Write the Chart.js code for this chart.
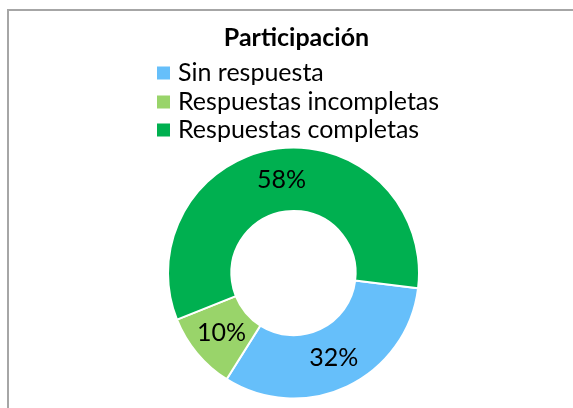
<!DOCTYPE html>
<html>
<head>
<meta charset="utf-8">
<script src="https://cdn.jsdelivr.net/npm/chart.js@4.4.1/dist/chart.umd.min.js"></script>
<style>
  html, body { margin: 0; padding: 0; background: #fff; }
  #wrap { width: 573px; height: 408px; position: relative; }
</style>
</head>
<body>
<div id="wrap"><canvas id="c" width="573" height="408"></canvas></div>
<script>
const chartTitle = "Participación";
const categories = ["Sin respuesta", "Respuestas incompletas", "Respuestas completas"];
const values = [32, 10, 58];
const valueLabels = ["32%", "10%", "58%"];
const colors = ["#66BFFA", "#99D46A", "#00B050"];

const FONT = "Lato, 'Liberation Sans', Arial, sans-serif";

const excelDecor = {
  id: 'excelDecor',
  afterDatasetsDraw(chart) {
    const ctx = chart.ctx;
    ctx.save();
    const meta = chart.getDatasetMeta(0);
    ctx.fillStyle = '#000';
    ctx.font = '25px ' + FONT;
    ctx.textAlign = 'center';
    ctx.textBaseline = 'middle';
    meta.data.forEach((arc, i) => {
      const p = arc.tooltipPosition();
      ctx.fillText(valueLabels[i], p.x, p.y);
    });
    ctx.restore();
  },
  afterDraw(chart) {
    const ctx = chart.ctx;
    ctx.save();
    ctx.fillStyle = '#A6A6A6';
    ctx.fillRect(7, 9, 600, 2);
    ctx.fillRect(7, 9, 2, 500);
    ctx.fillStyle = '#000';
    ctx.font = 'bold 25px ' + FONT;
    ctx.textAlign = 'center';
    ctx.textBaseline = 'middle';
    ctx.fillText(chartTitle, 296.5, 38);
    ctx.font = '25px ' + FONT;
    ctx.textAlign = 'left';
    const rows = [73, 102, 130];
    categories.forEach((c, i) => {
      ctx.fillStyle = colors[i];
      ctx.fillRect(157, rows[i] - 6.5, 13, 13);
      ctx.fillStyle = '#000';
      ctx.fillText(c, 178, rows[i]);
    });
    ctx.restore();
  }
};

new Chart(document.getElementById('c'), {
  type: 'doughnut',
  data: {
    labels: categories,
    datasets: [{
      data: values,
      backgroundColor: colors,
      borderColor: '#FFFFFF',
      borderWidth: 2
    }]
  },
  options: {
    responsive: false,
    animation: false,
    rotation: 97,
    cutout: '49.5%',
    layout: { padding: { left: 167, right: 153, top: 146.5, bottom: 8.5 } },
    plugins: {
      legend: { display: false },
      title: { display: false },
      tooltip: { enabled: false }
    }
  },
  plugins: [excelDecor]
});
</script>
</body>
</html>
